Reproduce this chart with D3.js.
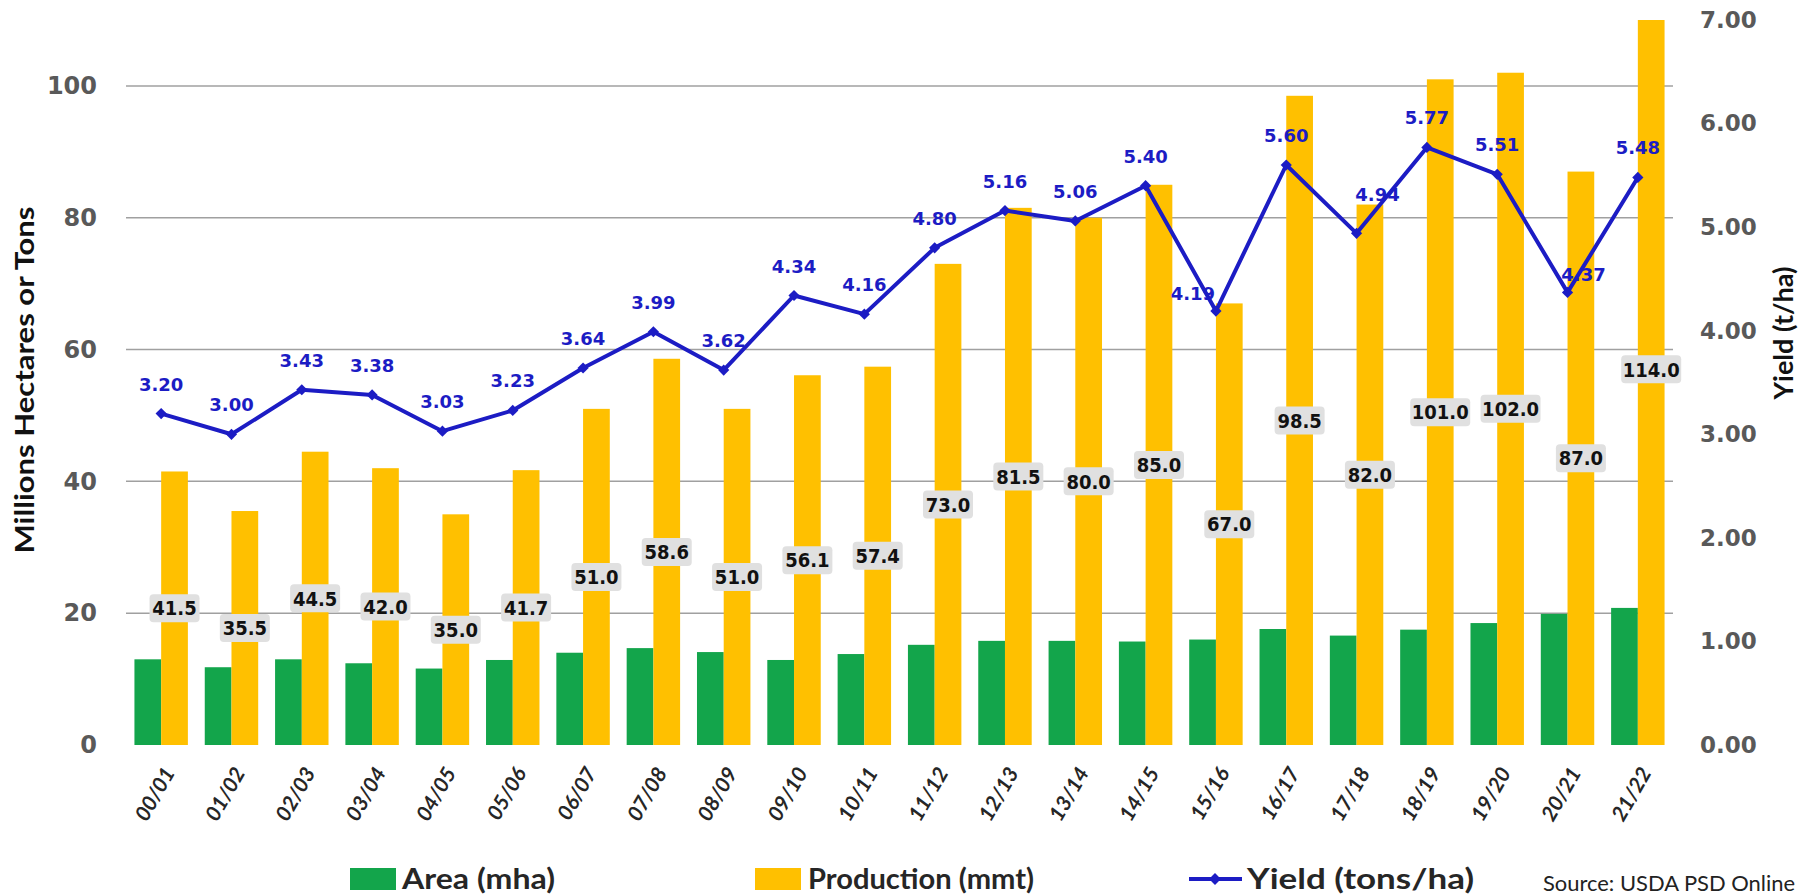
<!DOCTYPE html>
<html>
<head>
<meta charset="utf-8">
<script src="https://cdn.jsdelivr.net/npm/d3@7"></script>
<style>
  html, body { margin: 0; padding: 0; background: #fff; }
  svg { display: block; }
</style>
</head>
<body>
<svg id="chart"></svg>
<script>
const seasons = ["00/01", "01/02", "02/03", "03/04", "04/05", "05/06", "06/07", "07/08", "08/09", "09/10", "10/11",
    "11/12", "12/13", "13/14", "14/15", "15/16", "16/17", "17/18", "18/19", "19/20", "20/21", "21/22"];
const area = [13.0, 11.8, 13.0, 12.4, 11.6, 12.9, 14.0, 14.7, 14.1, 12.9, 13.8,
    15.2, 15.8, 15.8, 15.7, 16.0, 17.6, 16.6, 17.5, 18.5, 19.9, 20.8];
const production = [41.5, 35.5, 44.5, 42.0, 35.0, 41.7, 51.0, 58.6, 51.0, 56.1, 57.4,
    73.0, 81.5, 80.0, 85.0, 67.0, 98.5, 82.0, 101.0, 102.0, 87.0, 114.0];
const yieldTons = [3.20, 3.00, 3.43, 3.38, 3.03, 3.23, 3.64, 3.99, 3.62, 4.34, 4.16,
    4.80, 5.16, 5.06, 5.40, 4.19, 5.60, 4.94, 5.77, 5.51, 4.37, 5.48];
const leftTicks = [0, 20, 40, 60, 80, 100];
const rightTicks = [0, 1, 2, 3, 4, 5, 6, 7];

// a few yield labels were dragged aside in the original chart
const labelNudge = { "15/16": [-23, 12], "17/18": [21, -9], "20/21": [16, 12] };

const width = 1802;
const height = 894;
const plotLeft = 126;
const plotRight = 1673;
const plotTop = 20;
const plotBottom = 745;

const green = "#13a54b";
const gold = "#ffc000";
const blue = "#1c1cc4";
const tickFont = "'DejaVu Sans', Verdana, sans-serif";
const labelFont = "Lato, 'Open Sans', sans-serif";

const data = seasons.map((s, i) => ({ season: s, area: area[i], production: production[i], yld: yieldTons[i] }));

const x = d3.scaleBand()
    .domain(seasons)
    .range([plotLeft, plotRight])
    .paddingInner(0.24)
    .paddingOuter(0.12);

const xSub = d3.scaleBand()
    .domain(["area", "production"])
    .range([0, x.bandwidth()]);

const y = d3.scaleLinear().domain([0, 110]).range([plotBottom, plotTop]);
const y2 = d3.scaleLinear().domain([0, 7]).range([plotBottom, plotTop]);

const svg = d3.select("#chart")
    .attr("width", width)
    .attr("height", height)
    .attr("viewBox", [0, 0, width, height]);

svg.append("defs").append("clipPath")
    .attr("id", "plotClip")
    .append("rect")
    .attr("x", plotLeft - 20)
    .attr("y", plotTop)
    .attr("width", plotRight - plotLeft + 40)
    .attr("height", plotBottom - plotTop);

// gridlines
svg.append("g")
    .selectAll("line")
    .data(leftTicks.filter(d => d > 0))
    .join("line")
    .attr("x1", plotLeft)
    .attr("x2", plotRight)
    .attr("y1", d => y(d))
    .attr("y2", d => y(d))
    .attr("stroke", "#a0a0a0")
    .attr("stroke-width", 1.5);

// left axis
const gy = svg.append("g")
    .attr("transform", `translate(${plotLeft - 29},0)`)
    .call(d3.axisLeft(y).tickValues(leftTicks).tickSize(0).tickPadding(0))
    .call(g => g.select(".domain").remove());
gy.selectAll("text")
    .attr("font-family", tickFont)
    .attr("font-weight", "bold")
    .attr("font-size", 24)
    .attr("fill", "#595959");

// right axis
const gy2 = svg.append("g")
    .attr("transform", `translate(${plotRight + 27},0)`)
    .call(d3.axisRight(y2).tickValues(rightTicks).tickFormat(d3.format(".2f")).tickSize(0).tickPadding(0))
    .call(g => g.select(".domain").remove());
gy2.selectAll("text")
    .attr("font-family", tickFont)
    .attr("font-weight", "bold")
    .attr("font-size", 23)
    .attr("fill", "#595959");

// bars
const bars = svg.append("g").attr("clip-path", "url(#plotClip)");

bars.selectAll(".area")
    .data(data)
    .join("rect")
    .attr("class", "area")
    .attr("x", d => x(d.season) + xSub("area"))
    .attr("width", xSub.bandwidth())
    .attr("y", d => y(d.area))
    .attr("height", d => y(0) - y(d.area))
    .attr("fill", green);

bars.selectAll(".prod")
    .data(data)
    .join("rect")
    .attr("class", "prod")
    .attr("x", d => x(d.season) + xSub("production"))
    .attr("width", xSub.bandwidth())
    .attr("y", d => y(d.production))
    .attr("height", d => y(0) - y(d.production))
    .attr("fill", gold);

// production labels, centred in the bar
const prodLabels = svg.append("g")
    .selectAll("g")
    .data(data)
    .join("g")
    .attr("transform", d => `translate(${x(d.season) + xSub("production") + xSub.bandwidth() / 2},${y(d.production / 2)})`);

prodLabels.append("rect")
    .attr("x", d => d.production >= 100 ? -30 : -25)
    .attr("y", -14)
    .attr("width", d => d.production >= 100 ? 60 : 50)
    .attr("height", 28)
    .attr("rx", 4)
    .attr("fill", "#e0e0e0");

prodLabels.append("text")
    .attr("text-anchor", "middle")
    .attr("dy", "0.36em")
    .attr("font-family", "'DejaVu Sans Condensed', 'DejaVu Sans', sans-serif")
    .attr("font-stretch", "condensed")
    .attr("font-weight", "bold")
    .attr("font-size", 20)
    .attr("fill", "#111")
    .text(d => d.production.toFixed(1));

// yield line
const cx = d => x(d.season) + x.bandwidth() / 2;

const line = d3.line()
    .x(cx)
    .y(d => y2(d.yld));

svg.append("path")
    .datum(data)
    .attr("d", line)
    .attr("fill", "none")
    .attr("stroke", blue)
    .attr("stroke-width", 4)
    .attr("stroke-linejoin", "round");

svg.append("g")
    .selectAll("path")
    .data(data)
    .join("path")
    .attr("transform", d => `translate(${cx(d)},${y2(d.yld)})`)
    .attr("d", d3.symbol(d3.symbolDiamond2, 80))
    .attr("fill", blue);

svg.append("g")
    .selectAll("text")
    .data(data)
    .join("text")
    .attr("x", d => cx(d) + (labelNudge[d.season] ? labelNudge[d.season][0] : 0))
    .attr("y", d => y2(d.yld) - 23 + (labelNudge[d.season] ? labelNudge[d.season][1] : 0))
    .attr("text-anchor", "middle")
    .attr("font-family", tickFont)
    .attr("font-weight", "bold")
    .attr("font-size", 18)
    .attr("fill", blue)
    .text(d => d.yld.toFixed(2));

// category labels
svg.append("g")
    .selectAll("text")
    .data(seasons)
    .join("text")
    .attr("transform", d => `translate(${x(d) + x.bandwidth() / 2 + 8},${plotBottom + 24}) rotate(-60)`)
    .attr("text-anchor", "end")
    .attr("dy", "0.35em")
    .attr("font-family", labelFont)
    .attr("font-style", "italic")
    .attr("font-weight", "bold")
    .attr("font-size", 21)
    .attr("fill", "#262626")
    .text(d => d);

// axis titles
svg.append("text")
    .attr("transform", `translate(34,380) rotate(-90)`)
    .attr("text-anchor", "middle")
    .attr("font-family", labelFont)
    .attr("font-weight", "bold")
    .attr("font-size", 27)
    .attr("fill", "#111")
    .attr("textLength", 347)
    .attr("lengthAdjust", "spacingAndGlyphs")
    .text("Millions Hectares or Tons");

svg.append("text")
    .attr("transform", `translate(1793,333) rotate(-90)`)
    .attr("text-anchor", "middle")
    .attr("font-family", labelFont)
    .attr("font-weight", "bold")
    .attr("font-size", 27)
    .attr("fill", "#111")
    .attr("textLength", 133)
    .attr("lengthAdjust", "spacingAndGlyphs")
    .text("Yield (t/ha)");

// legend
const legendItems = [
    { label: "Area (mha)", x: 350, textX: 402, len: 153, kind: "bar", color: green },
    { label: "Production (mmt)", x: 755, textX: 808, len: 226, kind: "bar", color: gold },
    { label: "Yield (tons/ha)", x: 1189, textX: 1247, len: 227, kind: "line", color: blue }
];
const legend = svg.append("g").attr("transform", "translate(0,879)");
const li = legend.selectAll("g").data(legendItems).join("g");
li.filter(d => d.kind === "bar").append("rect")
    .attr("x", d => d.x).attr("y", -11).attr("width", 46).attr("height", 22).attr("fill", d => d.color);
li.filter(d => d.kind === "line").append("line")
    .attr("x1", d => d.x).attr("x2", d => d.x + 53).attr("y1", 0).attr("y2", 0)
    .attr("stroke", d => d.color).attr("stroke-width", 4);
li.filter(d => d.kind === "line").append("path")
    .attr("transform", d => `translate(${d.x + 26},0)`)
    .attr("d", d3.symbol(d3.symbolDiamond2, 90)).attr("fill", d => d.color);
li.append("text")
    .attr("x", d => d.textX)
    .attr("dy", "0.36em")
    .attr("font-family", labelFont)
    .attr("font-weight", "bold")
    .attr("font-size", 28)
    .attr("fill", "#262626")
    .attr("textLength", d => d.len)
    .attr("lengthAdjust", "spacingAndGlyphs")
    .text(d => d.label);

svg.append("text")
    .attr("x", 1543)
    .attr("y", 891)
    .attr("font-family", labelFont)
    .attr("font-size", 21)
    .attr("fill", "#222")
    .attr("textLength", 252)
    .attr("lengthAdjust", "spacingAndGlyphs")
    .text("Source: USDA PSD Online");
</script>
</body>
</html>
